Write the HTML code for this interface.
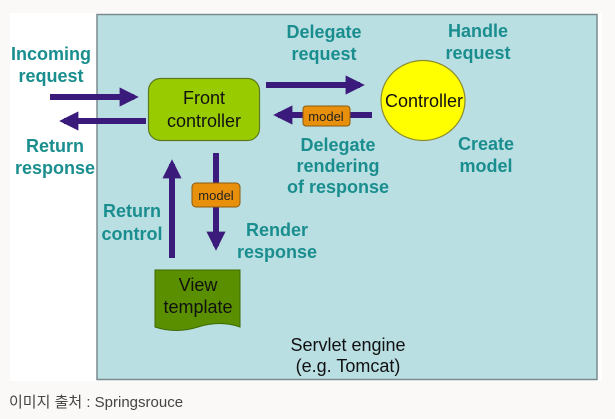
<!DOCTYPE html>
<html><head><style>
body{margin:0;width:615px;height:419px;background:#faf9f8;overflow:hidden;font-family:"Liberation Sans",Arial,sans-serif}
.cap{position:absolute;left:9px;top:391px;font-size:15px;color:#444;font-family:"Liberation Sans","Noto Sans CJK KR",sans-serif}
</style></head><body>
<svg width="615" height="419" style="position:absolute;left:0;top:0">
<defs><marker id="a" markerWidth="3.2" markerHeight="3.2" refX="2.4" refY="1.6" orient="auto"><path d="M0,0L3.2,1.6L0,3.2z" fill="#3a1a7a"/></marker></defs>
<rect x="10" y="13" width="592" height="368" fill="#fff"/>
<rect x="97" y="14.5" width="500" height="365" fill="#badfe3" stroke="#7a8a8c" stroke-width="1.5"/>
<g stroke="#3a1a7a" stroke-width="6" fill="none" marker-end="url(#a)">
<line x1="50" y1="97" x2="134" y2="97"/>
<line x1="146" y1="121" x2="64" y2="121"/>
<line x1="266" y1="85" x2="360" y2="85"/>
<line x1="372" y1="115" x2="278" y2="115"/>
<line x1="216" y1="153" x2="216" y2="246"/>
<line x1="172" y1="258" x2="172" y2="164"/>
</g>
<rect x="148.5" y="78.5" width="111" height="62" rx="12" fill="#99cc00" stroke="#5d7a20" stroke-width="1.2"/>
<ellipse cx="423" cy="100.5" rx="42" ry="40" fill="#ffff00" stroke="#8a8a30" stroke-width="1.2"/>
<rect x="303" y="106" width="47" height="20" rx="3" fill="#e8900c" stroke="#8a5a10"/>
<rect x="192" y="183" width="48" height="24" rx="4" fill="#e8900c" stroke="#8a5a10"/>
<path d="M155,270H240V327Q220,320 198,327T155,327Z" fill="#5a9000" stroke="#3d6a00"/>
<g font-size="18" fill="#111" text-anchor="middle">
<text x="204" y="104">Front</text><text x="204" y="127">controller</text>
<text x="424" y="107">Controller</text>
<text x="198" y="291">View</text><text x="198" y="313">template</text>
<text x="348" y="351">Servlet engine</text><text x="348" y="372">(e.g. Tomcat)</text>
</g>
<g font-size="13" fill="#222" text-anchor="middle"><text x="326" y="121">model</text><text x="216" y="200">model</text></g>
<g font-size="18" font-weight="bold" fill="#1a8e8e" text-anchor="middle">
<text x="51" y="60">Incoming</text><text x="51" y="82">request</text>
<text x="55" y="152">Return</text><text x="55" y="174">response</text>
<text x="324" y="38">Delegate</text><text x="324" y="60">request</text>
<text x="478" y="37">Handle</text><text x="478" y="59">request</text>
<text x="486" y="150">Create</text><text x="486" y="172">model</text>
<text x="338" y="151">Delegate</text><text x="338" y="172">rendering</text><text x="338" y="193">of response</text>
<text x="132" y="217">Return</text><text x="132" y="240">control</text>
<text x="277" y="236">Render</text><text x="277" y="258">response</text>
</g>
</svg>
<div class="cap">이미지 출처 : Springsrouce</div>
</body></html>
